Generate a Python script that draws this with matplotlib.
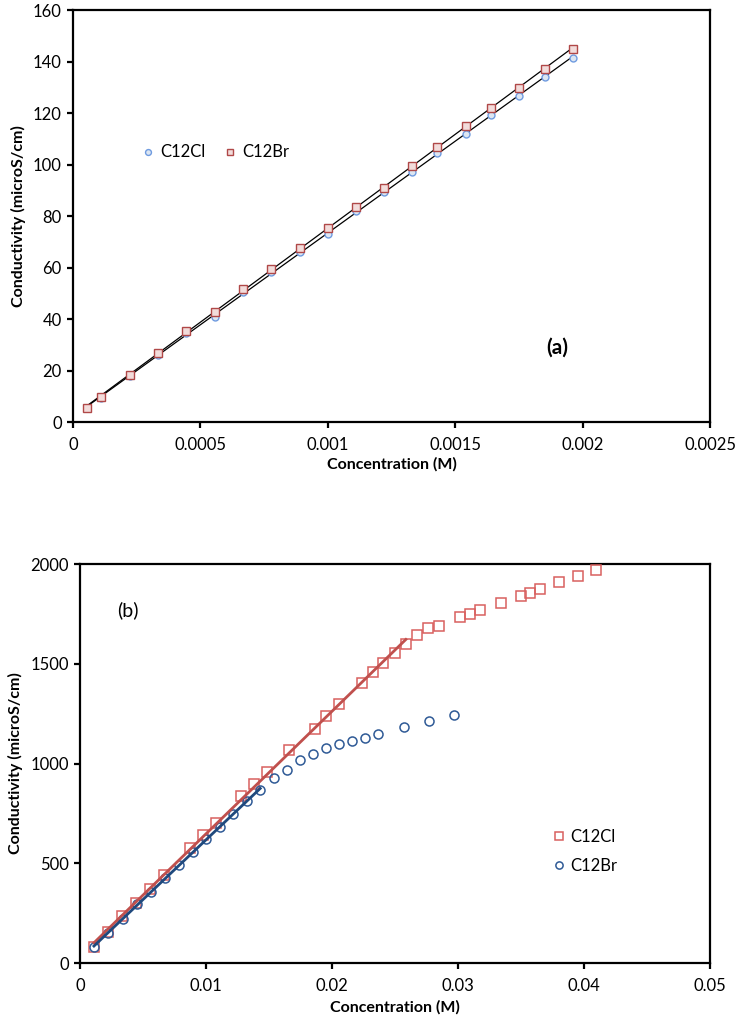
import numpy as np
import matplotlib
matplotlib.use("Agg")
import matplotlib.pyplot as plt
from matplotlib.ticker import FuncFormatter

plt.rcParams['font.family'] = ['Lato', 'DejaVu Sans']

# (a) low concentration region
conc_a = [0.0000556, 0.000111, 0.000222, 0.000333, 0.000444, 0.000556, 0.000667,
          0.000778, 0.000889, 0.001, 0.00111, 0.00122, 0.00133, 0.00143, 0.00154,
          0.00164, 0.00175, 0.00185, 0.00196]
cl_a = [5.4, 9.5, 18.1, 26.1, 34.5, 40.9, 50.5, 58.2, 65.9, 73.2, 81.9, 89.3, 97.0,
        104.5, 112.1, 119.2, 126.6, 133.9, 141.5]
br_a = [5.4, 9.9, 18.2, 27.0, 35.4, 42.8, 51.7, 59.6, 67.5, 75.4, 83.7, 91.0, 99.6,
        107.0, 115.0, 122.2, 129.7, 137.0, 144.9]

# (b) full range
conc_cl_b = [0.00111, 0.00225, 0.00336, 0.00444, 0.00556, 0.00664, 0.00873, 0.00974,
             0.01077, 0.01278, 0.01378, 0.01481, 0.01661, 0.01862, 0.01952, 0.02053,
             0.02235, 0.02323, 0.02407, 0.025, 0.02587, 0.02677, 0.02765, 0.02849,
             0.03016, 0.03095, 0.03177, 0.03339, 0.03498, 0.03574, 0.03651, 0.03802,
             0.0395, 0.04098]
cond_cl_b = [80, 155, 237, 302, 372, 440, 575, 640, 703, 835, 899, 957, 1069, 1171,
             1238, 1300, 1405, 1457, 1505, 1554, 1598, 1643, 1677, 1690, 1732, 1752,
             1771, 1807, 1842, 1857, 1873, 1909, 1942, 1970]
conc_br_b = [0.00111, 0.00225, 0.00339, 0.0045, 0.00563, 0.00675, 0.00786, 0.00894,
             0.01, 0.01108, 0.01217, 0.01325, 0.01431, 0.01537, 0.01643, 0.01746,
             0.01852, 0.01955, 0.02058, 0.02161, 0.02265, 0.02367, 0.02570, 0.0277,
             0.02968]
cond_br_b = [80, 150, 219, 294, 356, 428, 490, 556, 620, 682, 748, 810, 869, 927, 970,
             1017, 1047, 1076, 1096, 1111, 1130, 1147, 1181, 1215, 1242]
n_fit_cl = 21
n_fit_br = 13

fig = plt.figure(figsize=(7.35, 10.27), dpi=100)
ax1 = fig.add_axes([0.0993, 0.589, 0.867, 0.401])
ax2 = fig.add_axes([0.1088, 0.0623, 0.857, 0.3885])

def style(ax):
    for s in ax.spines.values():
        s.set_linewidth(1.6)
        s.set_color('black')
    ax.tick_params(direction='out', length=4, width=1.6, labelsize=12, pad=4)
    ax.tick_params(axis='x', pad=7)

# ---- (a)
x = np.array(conc_a)
for y in (cl_a, br_a):
    p = np.polyfit(x, y, 1)
    xs = np.array([x[0], x[-1]])
    ax1.plot(xs, np.polyval(p, xs), color='black', lw=0.9, zorder=2)
ax1.plot(conc_a, cl_a, 'o', ms=5, mfc='#dce6f2', mec='#6f9be0', mew=1.0,
         ls='none', label='C12Cl', zorder=3)
ax1.plot(conc_a, br_a, 's', ms=5.5, mfc='#f2dcdb', mec='#b04848', mew=1.0,
         ls='none', label='C12Br', zorder=3)
ax1.set_xlim(0, 0.0025)
ax1.set_ylim(0, 160)
ax1.set_xticks(np.arange(0, 0.0026, 0.0005))
ax1.set_yticks(np.arange(0, 161, 20))
ax1.xaxis.set_major_formatter(FuncFormatter(lambda v, p: '%g' % round(v, 6)))
style(ax1)
ax1.set_xlabel('Concentration (M)', fontsize=11.5, fontweight='bold', labelpad=3)
ax1.set_ylabel('Conductivity (microS/cm)', fontsize=11.5, fontweight='bold', labelpad=5)
ax1.text(0.0019, 29, '(a)', fontsize=15, fontweight='bold', ha='center', va='center')
ax1.legend(loc='center', bbox_to_anchor=(0.222, 0.655), ncol=2, frameon=False,
           fontsize=12, handletextpad=0.2, columnspacing=1.0, handlelength=1.0,
           markerscale=0.85)

# ---- (b)
xc = np.array(conc_cl_b[:n_fit_cl])
pc = np.polyfit(xc, cond_cl_b[:n_fit_cl], 1)
xb = np.array(conc_br_b[:n_fit_br])
pb = np.polyfit(xb, cond_br_b[:n_fit_br], 1)
ax2.plot(conc_cl_b, cond_cl_b, 's', ms=7, mfc='none', mec='#d9605f', mew=1.1,
         ls='none', label='C12Cl', zorder=3)
ax2.plot(conc_br_b, cond_br_b, 'o', ms=6.5, mfc='none', mec='#2f5a96', mew=1.1,
         ls='none', label='C12Br', zorder=3)
ax2.plot([xc[0], xc[-1]], np.polyval(pc, [xc[0], xc[-1]]), color='#c0504d', lw=2.0, zorder=4)
ax2.plot([xb[0], xb[-1]], np.polyval(pb, [xb[0], xb[-1]]), color='#1f497d', lw=2.0, zorder=4)
ax2.set_xlim(0, 0.05)
ax2.set_ylim(0, 2000)
ax2.set_xticks(np.arange(0, 0.051, 0.01))
ax2.set_yticks(np.arange(0, 2001, 500))
ax2.xaxis.set_major_formatter(FuncFormatter(lambda v, p: '%g' % round(v, 6)))
style(ax2)
ax2.set_xlabel('Concentration (M)', fontsize=11.5, fontweight='bold', labelpad=4)
ax2.set_ylabel('Conductivity (microS/cm)', fontsize=11.5, fontweight='bold', labelpad=5)
ax2.text(0.0038, 1770, '(b)', fontsize=14, ha='center', va='center')
ax2.legend(loc='center', bbox_to_anchor=(0.8, 0.28), ncol=1, frameon=False,
           fontsize=12, handletextpad=0.2, labelspacing=0.8, handlelength=1.0,
           markerscale=0.8)

fig.savefig('out.png', dpi=100)
